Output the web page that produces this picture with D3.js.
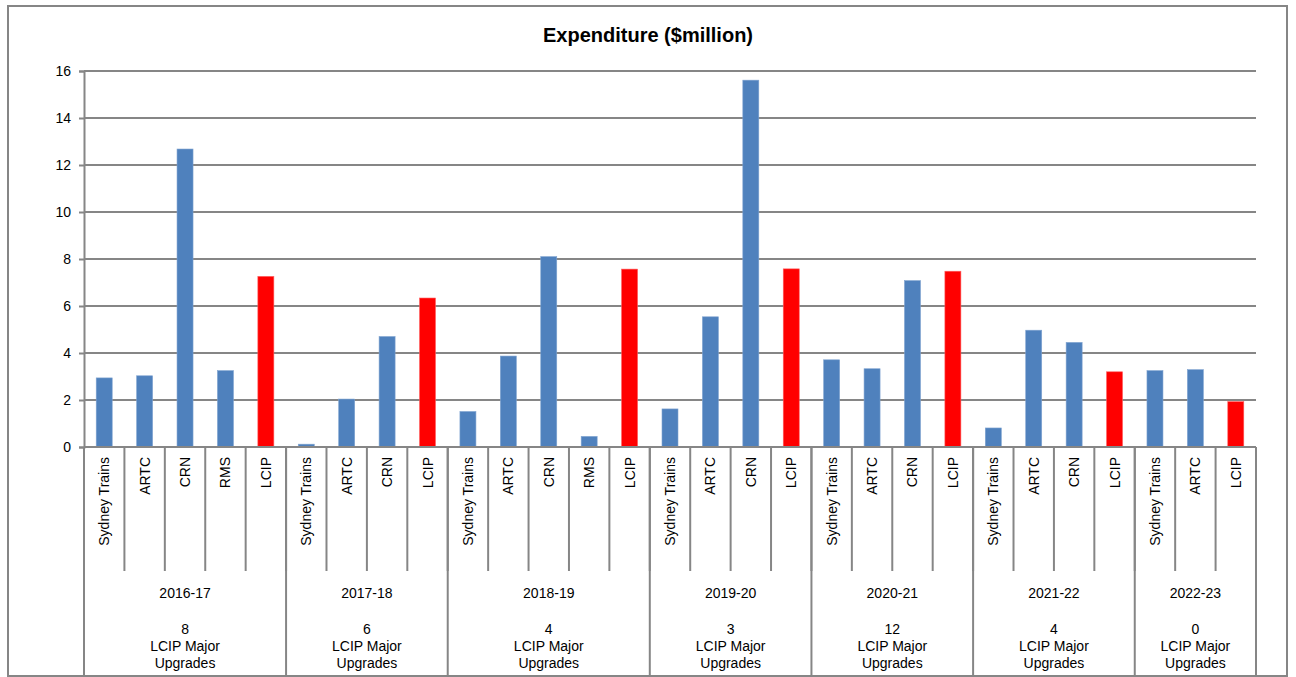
<!DOCTYPE html>
<html><head><meta charset="utf-8">
<script src="https://cdn.jsdelivr.net/npm/d3@7"></script>
<style>
html,body{margin:0;padding:0;background:#fff;}
svg{display:block;font-family:"Liberation Sans",Arial,sans-serif;}
</style></head>
<body><svg id="c" width="1296" height="677"></svg>
<script>
const years = ["2016-17","2017-18","2018-19","2019-20","2020-21","2021-22","2022-23"];
const upgradeCounts = [8,6,4,3,12,4,0];
const categories = [
  ["Sydney Trains","ARTC","CRN","RMS","LCIP"],
  ["Sydney Trains","ARTC","CRN","LCIP"],
  ["Sydney Trains","ARTC","CRN","RMS","LCIP"],
  ["Sydney Trains","ARTC","CRN","LCIP"],
  ["Sydney Trains","ARTC","CRN","LCIP"],
  ["Sydney Trains","ARTC","CRN","LCIP"],
  ["Sydney Trains","ARTC","LCIP"]
];
const expenditure = [
  [2.94,3.03,12.68,3.25,7.26],
  [0.12,2.04,4.70,6.34],
  [1.51,3.87,8.10,0.45,7.57],
  [1.62,5.54,15.61,7.58],
  [3.71,3.33,7.08,7.48],
  [0.81,4.97,4.45,3.20],
  [3.25,3.29,1.93]
];
const yTicks = [0,2,4,6,8,10,12,14,16];

const bars = [];
years.forEach((yr,gi)=>categories[gi].forEach((c,ci)=>bars.push({id:gi+"_"+ci,year:yr,gi,cat:c,value:expenditure[gi][ci]})));

const svg = d3.select("#c");
const L=84,R=1256,T=71,B=447;
const x = d3.scaleBand().domain(bars.map(d=>d.id)).range([L,R]);
const y = d3.scaleLinear().domain([0,16]).range([B,T]);
const grey="#868686";

// outer border
svg.append("rect").attr("x",8).attr("y",6).attr("width",1279).attr("height",670)
  .attr("fill","none").attr("stroke",grey).attr("stroke-width",2);

svg.append("text").attr("x",648).attr("y",42).attr("text-anchor","middle")
  .attr("font-weight","bold").attr("font-size",20).attr("fill","#000").text("Expenditure ($million)");

// gridlines
svg.append("g").selectAll("line").data(yTicks).join("line")
  .attr("x1",L).attr("x2",R).attr("y1",d=>y(d)).attr("y2",d=>y(d))
  .attr("stroke",grey).attr("stroke-width",2);

// y axis
const ya = svg.append("g").attr("transform",`translate(${L},0)`)
  .call(d3.axisLeft(y).tickValues(yTicks).tickSize(5).tickPadding(8));
ya.select(".domain").attr("stroke",grey).attr("stroke-width",2);
ya.selectAll(".tick line").attr("stroke",grey).attr("stroke-width",2);
ya.selectAll("text").attr("font-size",14).attr("fill","#000").attr("font-family","Liberation Sans, Arial, sans-serif");

// bars
const bw=16;
svg.append("g").selectAll("rect").data(bars).join("rect")
  .attr("x",d=>x(d.id)+x.bandwidth()/2-bw/2).attr("width",bw)
  .attr("y",d=>y(d.value)).attr("height",d=>y(0)-y(d.value))
  .attr("fill",d=>d.cat==="LCIP"?"#FF0000":"#4F81BD")
  .attr("stroke",d=>d.cat==="LCIP"?"#FF6060":"#7FA3D0").attr("stroke-width",0.6);

// category axis line
svg.append("line").attr("x1",L).attr("x2",R).attr("y1",B).attr("y2",B).attr("stroke",grey).attr("stroke-width",2);

// inner separators
const bounds = bars.map(d=>x(d.id)).concat([R]);
svg.append("g").selectAll("line").data(bounds).join("line")
  .attr("x1",d=>d).attr("x2",d=>d).attr("y1",B).attr("y2",571)
  .attr("stroke",grey).attr("stroke-width",2);

// group separators
const groupStarts=[];
let idx=0;
years.forEach((yr,gi)=>{groupStarts.push(idx); idx+=categories[gi].length;});
const gBounds = groupStarts.map(i=>x(bars[i].id)).concat([R]);
svg.append("g").selectAll("line").data(gBounds).join("line")
  .attr("x1",d=>d).attr("x2",d=>d).attr("y1",B).attr("y2",676)
  .attr("stroke",grey).attr("stroke-width",2);

// category labels
svg.append("g").selectAll("text").data(bars).join("text")
  .attr("transform",d=>`translate(${x(d.id)+x.bandwidth()/2+5},457) rotate(-90)`)
  .attr("text-anchor","end").attr("font-size",14).attr("fill","#000").text(d=>d.cat);

// group labels
const gl = svg.append("g").selectAll("g").data(years).join("g")
  .attr("transform",(d,i)=>`translate(${(gBounds[i]+gBounds[i+1])/2},0)`);
gl.append("text").attr("y",598).attr("text-anchor","middle").attr("font-size",14).text(d=>d);
gl.append("text").attr("y",634).attr("text-anchor","middle").attr("font-size",14).text((d,i)=>upgradeCounts[i]);
gl.append("text").attr("y",651).attr("text-anchor","middle").attr("font-size",14).text("LCIP Major");
gl.append("text").attr("y",668).attr("text-anchor","middle").attr("font-size",14).text("Upgrades");
</script></body></html>
